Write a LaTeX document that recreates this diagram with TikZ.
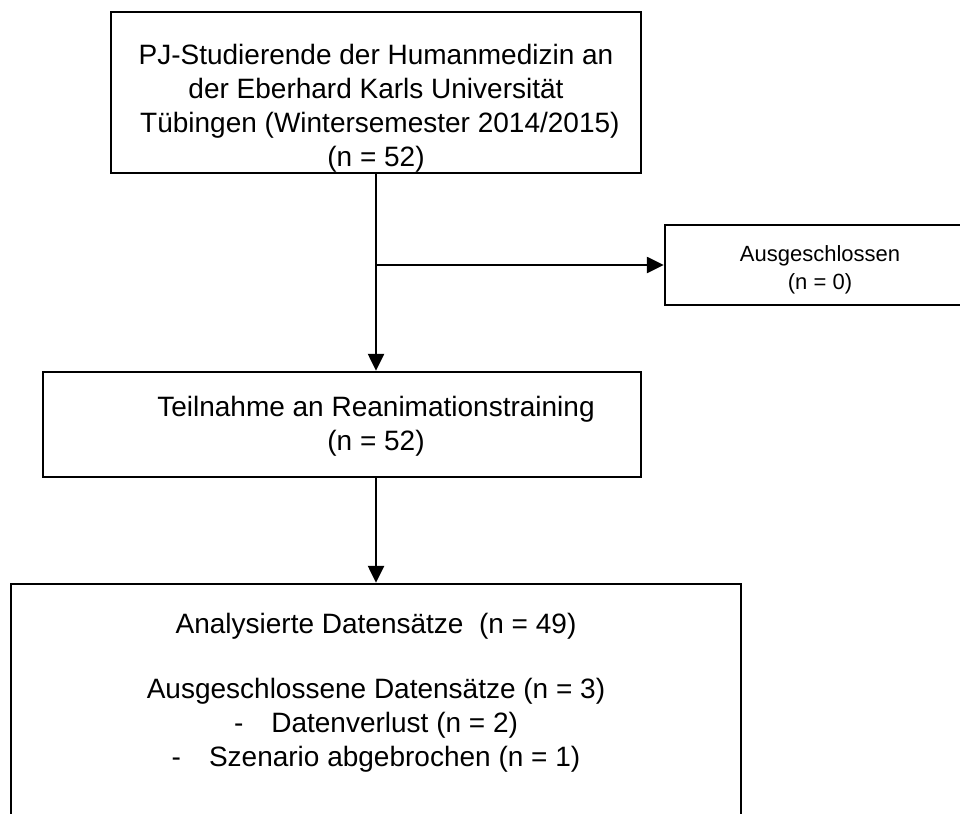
\documentclass[tikz,border=0pt]{standalone}
\usepackage{fontspec}
\setmainfont{Liberation Sans}
\usetikzlibrary{arrows.meta}
\begin{document}
\begin{tikzpicture}[x=1pt,y=-1pt,
  box/.style={draw, line width=2.5pt, inner sep=0pt},
  lbl/.style={align=center, inner sep=0pt, font=\fontsize{28}{34}\selectfont},
  small/.style={align=center, inner sep=0pt, font=\fontsize{22}{28}\selectfont},
  conn/.style={line width=2.6pt, -{Triangle[length=17pt,width=16pt]}},
]
\useasboundingbox (0,0) rectangle (960,813);
\clip (0,0) rectangle (960,813);

% boxes
\node[box, minimum width=530pt, minimum height=161pt] (top) at (376,92.5) {};
\node[box, minimum width=310pt, minimum height=80pt] (side) at (820,265) {};
\node[box, minimum width=598pt, minimum height=105pt] (mid) at (342,424.5) {};
\node[box, minimum width=730pt, minimum height=260pt] (bot) at (376,714) {};

% texts
\node[lbl, anchor=north] (toptext) at (376,44)
  {PJ-Studierende der Humanmedizin an\\der Eberhard Karls Universität\\~Tübingen (Wintersemester 2014/2015)\\(n = 52)};
\node[small] (sidetext) at (820,270) {Ausgeschlossen\\(n = 0)};
\node[lbl] (midtext) at (376,426) {Teilnahme an Reanimationstraining\\(n = 52)};
\node[lbl, anchor=north] (bottext) at (376,613)
  {Analysierte Datensätze~ (n = 49)\\[31pt]Ausgeschlossene Datensätze (n = 3)\\-\quad Datenverlust (n = 2)\\-\quad Szenario abgebrochen (n = 1)};

% connectors
\coordinate (split) at (top.south |- side.west);
\draw[conn] (top.south) -- (top.south |- mid.north);
\draw[conn] (split) -- (side.west);
\draw[conn] (top.south |- mid.south) -- (top.south |- bot.north);
\end{tikzpicture}
\end{document}
